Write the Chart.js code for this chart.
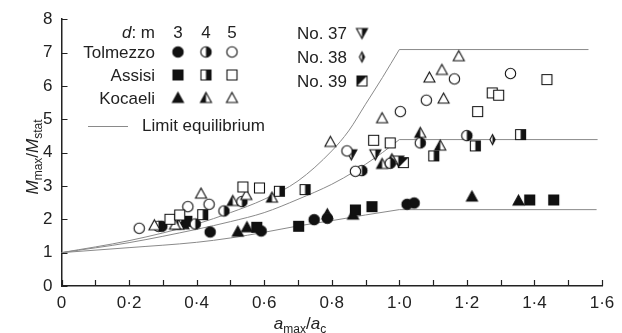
<!DOCTYPE html>
<html>
<head>
<meta charset="utf-8">
<script src="https://cdn.jsdelivr.net/npm/chart.js@4"></script>
<style>
  body { margin: 0; background: #fff; }
  canvas { display: block; }
</style>
</head>
<body>
<canvas id="momentChart" width="622" height="333"></canvas>
<script>
// limit equilibrium curves, one per depth d (m): rising branch up to a_max/a_c = 1, then flat
const limitX3 = [0, 0.2, 0.4, 0.5, 0.6, 0.7, 0.8, 0.9, 1.0];
const limitY3 = [1, 1.15, 1.31, 1.44, 1.61, 1.8, 1.96, 2.13, 2.29];
const limitX4 = [0, 0.2, 0.4, 0.5, 0.6, 0.7, 0.8, 0.87, 0.9, 0.95, 1.0];
const limitY4 = [1, 1.3, 1.7, 1.93, 2.2, 2.6, 3.05, 3.45, 3.65, 4.0, 4.39];
const limitX5 = [0, 0.2, 0.4, 0.5, 0.6, 0.7, 0.8, 0.85, 0.9, 0.95, 1.0];
const limitY5 = [1, 1.36, 1.86, 2.2, 2.6, 3.15, 4.05, 4.65, 5.45, 6.25, 7.09];
const plateauEnd = [1.584, 1.587, 1.56];

// test results [a_max/a_c, M_max/M_stat]
const tolmezzo3 = [[0.297, 1.79], [0.44, 1.62], [0.591, 1.65], [0.748, 1.99], [0.787, 2.03], [1.023, 2.45], [1.044, 2.49]];
const tolmezzo4 = [[0.287, 1.79], [0.396, 1.86], [0.481, 2.25], [0.534, 2.53], [0.889, 3.46], [0.973, 3.68], [1.062, 4.29], [1.2, 4.51]];
const tolmezzo5 = [[0.23, 1.73], [0.374, 2.38], [0.437, 2.45], [0.845, 4.05], [0.87, 3.44], [1.003, 5.23], [1.08, 5.57], [1.163, 6.21], [1.329, 6.37]];
const assisi3 = [[0.371, 1.94], [0.578, 1.76], [0.702, 1.79], [0.87, 2.28], [0.919, 2.38], [1.386, 2.58], [1.457, 2.58]];
const assisi4 = [[0.418, 2.14], [0.645, 2.84], [0.721, 2.89], [1.102, 3.9], [1.225, 4.2], [1.359, 4.54]];
const assisi5 = [[0.321, 2.0], [0.35, 2.13], [0.537, 2.97], [0.586, 2.94], [0.924, 4.37], [0.973, 4.29], [1.232, 5.23], [1.275, 5.79], [1.294, 5.72], [1.437, 6.19]];
const kocaeli3 = [[0.361, 1.85], [0.522, 1.63], [0.549, 1.76], [0.787, 2.15], [0.863, 2.14], [1.215, 2.68], [1.353, 2.56]];
const kocaeli4 = [[0.346, 1.84], [0.507, 2.55], [0.623, 2.65], [0.949, 3.66], [0.978, 3.8], [1.062, 4.59], [1.121, 4.21]];
const kocaeli5 = [[0.275, 1.82], [0.336, 1.84], [0.413, 2.77], [0.547, 2.73], [0.796, 4.32], [0.949, 5.03], [1.089, 6.25], [1.126, 6.48], [1.131, 5.62], [1.176, 6.89]];
const no37 = [[0.858, 3.95], [0.929, 3.95], [0.997, 3.76]];
const no38 = [[1.062, 4.36], [1.276, 4.39]];
const no39 = [[1.012, 3.7]];

const xTicks = [0, 0.2, 0.4, 0.6, 0.8, 1.0, 1.2, 1.4, 1.6];
const depthLabels = ["3", "4", "5"];
const siteLabels = ["Tolmezzo", "Assisi", "Kocaeli"];
const testLabels = ["No. 37", "No. 38", "No. 39"];

const FONT = "'Liberation Sans', Arial, sans-serif";
const INK = "#222";
const CURVE = "#8a8a8a";

// small marker images: shape outline, with black fill full / half / none
function makeSymbol(shape, fill) {
  const c = document.createElement("canvas");
  c.width = 15;
  c.height = 15;
  const g = c.getContext("2d");
  const cx = 7.5, cy = 7.5;

  function path() {
    g.beginPath();
    if (shape === "circle") {
      g.arc(cx, cy, 5.2, 0, Math.PI * 2);
    } else if (shape === "square") {
      g.rect(cx - 5, cy - 5, 10, 10);
    } else if (shape === "triangle") {
      g.moveTo(cx, cy - 5.5);
      g.lineTo(cx + 5.5, cy + 4.5);
      g.lineTo(cx - 5.5, cy + 4.5);
      g.closePath();
    } else if (shape === "triDown") {
      g.moveTo(cx - 5.5, cy - 4.5);
      g.lineTo(cx + 5.5, cy - 4.5);
      g.lineTo(cx, cy + 5.5);
      g.closePath();
    } else if (shape === "diamond") {
      g.moveTo(cx, cy - 5);
      g.lineTo(cx + 2.6, cy);
      g.lineTo(cx, cy + 5);
      g.lineTo(cx - 2.6, cy);
      g.closePath();
    }
  }

  path();
  g.fillStyle = "#fff";
  g.fill();

  if (fill !== "none") {
    g.save();
    if (fill === "right") {
      g.beginPath();
      g.rect(cx, 0, 8, 15);
      g.clip();
    } else if (fill === "left") {
      g.beginPath();
      g.rect(0, 0, cx, 15);
      g.clip();
    } else if (fill === "diag") {
      g.beginPath();
      g.moveTo(0, 0);
      g.lineTo(15, 0);
      g.lineTo(0, 15);
      g.closePath();
      g.clip();
    }
    path();
    g.fillStyle = "#111";
    g.fill();
    g.restore();
  }

  path();
  g.lineWidth = 1.1;
  g.strokeStyle = "#111";
  g.stroke();
  return c;
}

const symbols = {
  tolmezzo3: makeSymbol("circle", "full"),
  tolmezzo4: makeSymbol("circle", "right"),
  tolmezzo5: makeSymbol("circle", "none"),
  assisi3: makeSymbol("square", "full"),
  assisi4: makeSymbol("square", "right"),
  assisi5: makeSymbol("square", "none"),
  kocaeli3: makeSymbol("triangle", "full"),
  kocaeli4: makeSymbol("triangle", "left"),
  kocaeli5: makeSymbol("triangle", "none"),
  no37: makeSymbol("triDown", "right"),
  no38: makeSymbol("diamond", "right"),
  no39: makeSymbol("square", "diag")
};

function toPoints(pairs) {
  return pairs.map(([x, y]) => ({ x, y }));
}

// smooth rising branch
function risingDataset(xs, ys) {
  return {
    type: "scatter",
    data: xs.map((x, i) => ({ x, y: ys[i] })),
    showLine: true,
    borderColor: CURVE,
    borderWidth: 1,
    pointRadius: 0,
    cubicInterpolationMode: "monotone",
    order: 2
  };
}

// flat branch from a_max/a_c = 1 onwards
function plateauDataset(xs, ys, end) {
  const top = ys[ys.length - 1];
  return {
    type: "scatter",
    data: [{ x: xs[xs.length - 1], y: top }, { x: end, y: top }],
    showLine: true,
    borderColor: CURVE,
    borderWidth: 1,
    pointRadius: 0,
    order: 2
  };
}

function markerDataset(name, pairs) {
  return {
    type: "scatter",
    data: toPoints(pairs),
    pointStyle: symbols[name],
    pointRadius: 6,
    order: 1
  };
}

// mixed-font text run, used for the axis titles with subscripts
function drawRich(ctx, parts, x, y) {
  const fontOf = (p) => (p.sub ? `12px ${FONT}` : `${p.italic ? "italic " : ""}17px ${FONT}`);
  let total = 0;
  parts.forEach((p) => {
    ctx.font = fontOf(p);
    total += ctx.measureText(p.t).width;
  });
  let cur = x - total / 2;
  ctx.textAlign = "left";
  ctx.textBaseline = "alphabetic";
  parts.forEach((p) => {
    ctx.font = fontOf(p);
    ctx.fillText(p.t, cur, y + (p.sub ? 4 : 0));
    cur += ctx.measureText(p.t).width;
  });
}

const annotations = {
  id: "annotations",
  afterDraw(chart) {
    const ctx = chart.ctx;
    const xs = chart.scales.x;
    const ys = chart.scales.y;
    ctx.save();

    // inward tick marks
    ctx.strokeStyle = INK;
    ctx.lineWidth = 1.2;
    ctx.beginPath();
    xs.ticks.forEach((t) => {
      const px = Math.round(xs.getPixelForValue(t.value)) + 0.5;
      ctx.moveTo(px, ys.bottom);
      ctx.lineTo(px, ys.bottom - 6);
    });
    ys.ticks.forEach((t) => {
      const py = Math.round(ys.getPixelForValue(t.value)) + 0.5;
      ctx.moveTo(xs.left, py);
      ctx.lineTo(xs.left + 6, py);
    });
    ctx.stroke();

    ctx.fillStyle = INK;

    // symbol key
    const keyRight = 155;
    const cols = [178, 206, 232];
    ctx.textBaseline = "middle";
    ctx.font = `17px ${FONT}`;
    ctx.textAlign = "right";
    const mW = ctx.measureText(": m").width;
    ctx.fillText(": m", keyRight, 33);
    ctx.font = `italic 17px ${FONT}`;
    ctx.fillText("d", keyRight - mW, 33);
    ctx.font = `17px ${FONT}`;
    ctx.textAlign = "center";
    depthLabels.forEach((d, i) => ctx.fillText(d, cols[i], 33));

    const rowsY = [53, 76, 99];
    const keys = ["tolmezzo", "assisi", "kocaeli"];
    siteLabels.forEach((label, r) => {
      ctx.textAlign = "right";
      ctx.fillText(label, keyRight, rowsY[r]);
      depthLabels.forEach((d, i) => {
        ctx.drawImage(symbols[keys[r] + d], cols[i] - 7.5, rowsY[r] - 8.5);
      });
    });

    ctx.strokeStyle = CURVE;
    ctx.lineWidth = 1;
    ctx.beginPath();
    ctx.moveTo(88, 126.5);
    ctx.lineTo(128, 126.5);
    ctx.stroke();
    ctx.textAlign = "left";
    ctx.fillText("Limit equilibrium", 142, 126);

    const testKeys = ["no37", "no38", "no39"];
    const testY = [34, 58, 82];
    testLabels.forEach((label, i) => {
      ctx.textAlign = "right";
      ctx.fillText(label, 347, testY[i]);
      ctx.drawImage(symbols[testKeys[i]], 362 - 7.5, testY[i] - 8.5);
    });

    // axis titles
    drawRich(ctx, [
      { t: "a", italic: true }, { t: "max", sub: true },
      { t: "/" }, { t: "a", italic: true }, { t: "c", sub: true }
    ], 300, 329);

    ctx.translate(38, 157);
    ctx.rotate(-Math.PI / 2);
    drawRich(ctx, [
      { t: "M", italic: true }, { t: "max", sub: true },
      { t: "/" }, { t: "M", italic: true }, { t: "stat", sub: true }
    ], 0, 0);

    ctx.restore();
  }
};

const chart = new Chart(document.getElementById("momentChart"), {
  type: "scatter",
  data: {
    datasets: [
      risingDataset(limitX3, limitY3),
      plateauDataset(limitX3, limitY3, plateauEnd[0]),
      risingDataset(limitX4, limitY4),
      plateauDataset(limitX4, limitY4, plateauEnd[1]),
      risingDataset(limitX5, limitY5),
      plateauDataset(limitX5, limitY5, plateauEnd[2]),
      markerDataset("assisi5", assisi5),
      markerDataset("tolmezzo5", tolmezzo5),
      markerDataset("kocaeli5", kocaeli5),
      markerDataset("assisi4", assisi4),
      markerDataset("tolmezzo4", tolmezzo4),
      markerDataset("kocaeli4", kocaeli4),
      markerDataset("no37", no37),
      markerDataset("no38", no38),
      markerDataset("no39", no39),
      markerDataset("assisi3", assisi3),
      markerDataset("tolmezzo3", tolmezzo3),
      markerDataset("kocaeli3", kocaeli3)
    ]
  },
  options: {
    responsive: false,
    animation: false,
    layout: { padding: { top: 14, right: 20, left: 0, bottom: 0 } },
    plugins: {
      legend: { display: false },
      tooltip: { enabled: false }
    },
    scales: {
      x: {
        type: "linear",
        min: 0,
        max: 1.6,
        afterFit(scale) { scale.height = 47; },
        afterBuildTicks(scale) {
          const ticks = [];
          for (let i = 0; i <= 16; i++) ticks.push({ value: i / 10 });
          scale.ticks = ticks;
        },
        grid: { display: false, drawTicks: false },
        border: { display: true, color: INK, width: 1.5 },
        ticks: {
          autoSkip: false,
          maxRotation: 0,
          padding: 7,
          color: INK,
          font: { family: FONT, size: 17 },
          callback(value) {
            const hit = xTicks.find((t) => Math.abs(t - value) < 1e-6);
            if (hit === undefined) return "";
            return hit === 0 ? "0" : hit.toFixed(1).replace(".", "\u00b7");
          }
        }
      },
      y: {
        min: 0,
        max: 8,
        afterFit(scale) { scale.width = 61.5; },
        grid: { display: false, drawTicks: false },
        border: { display: true, color: INK, width: 1.5 },
        ticks: {
          stepSize: 1,
          padding: 9,
          color: INK,
          font: { family: FONT, size: 17 }
        }
      }
    }
  },
  plugins: [annotations]
});
</script>
</body>
</html>
